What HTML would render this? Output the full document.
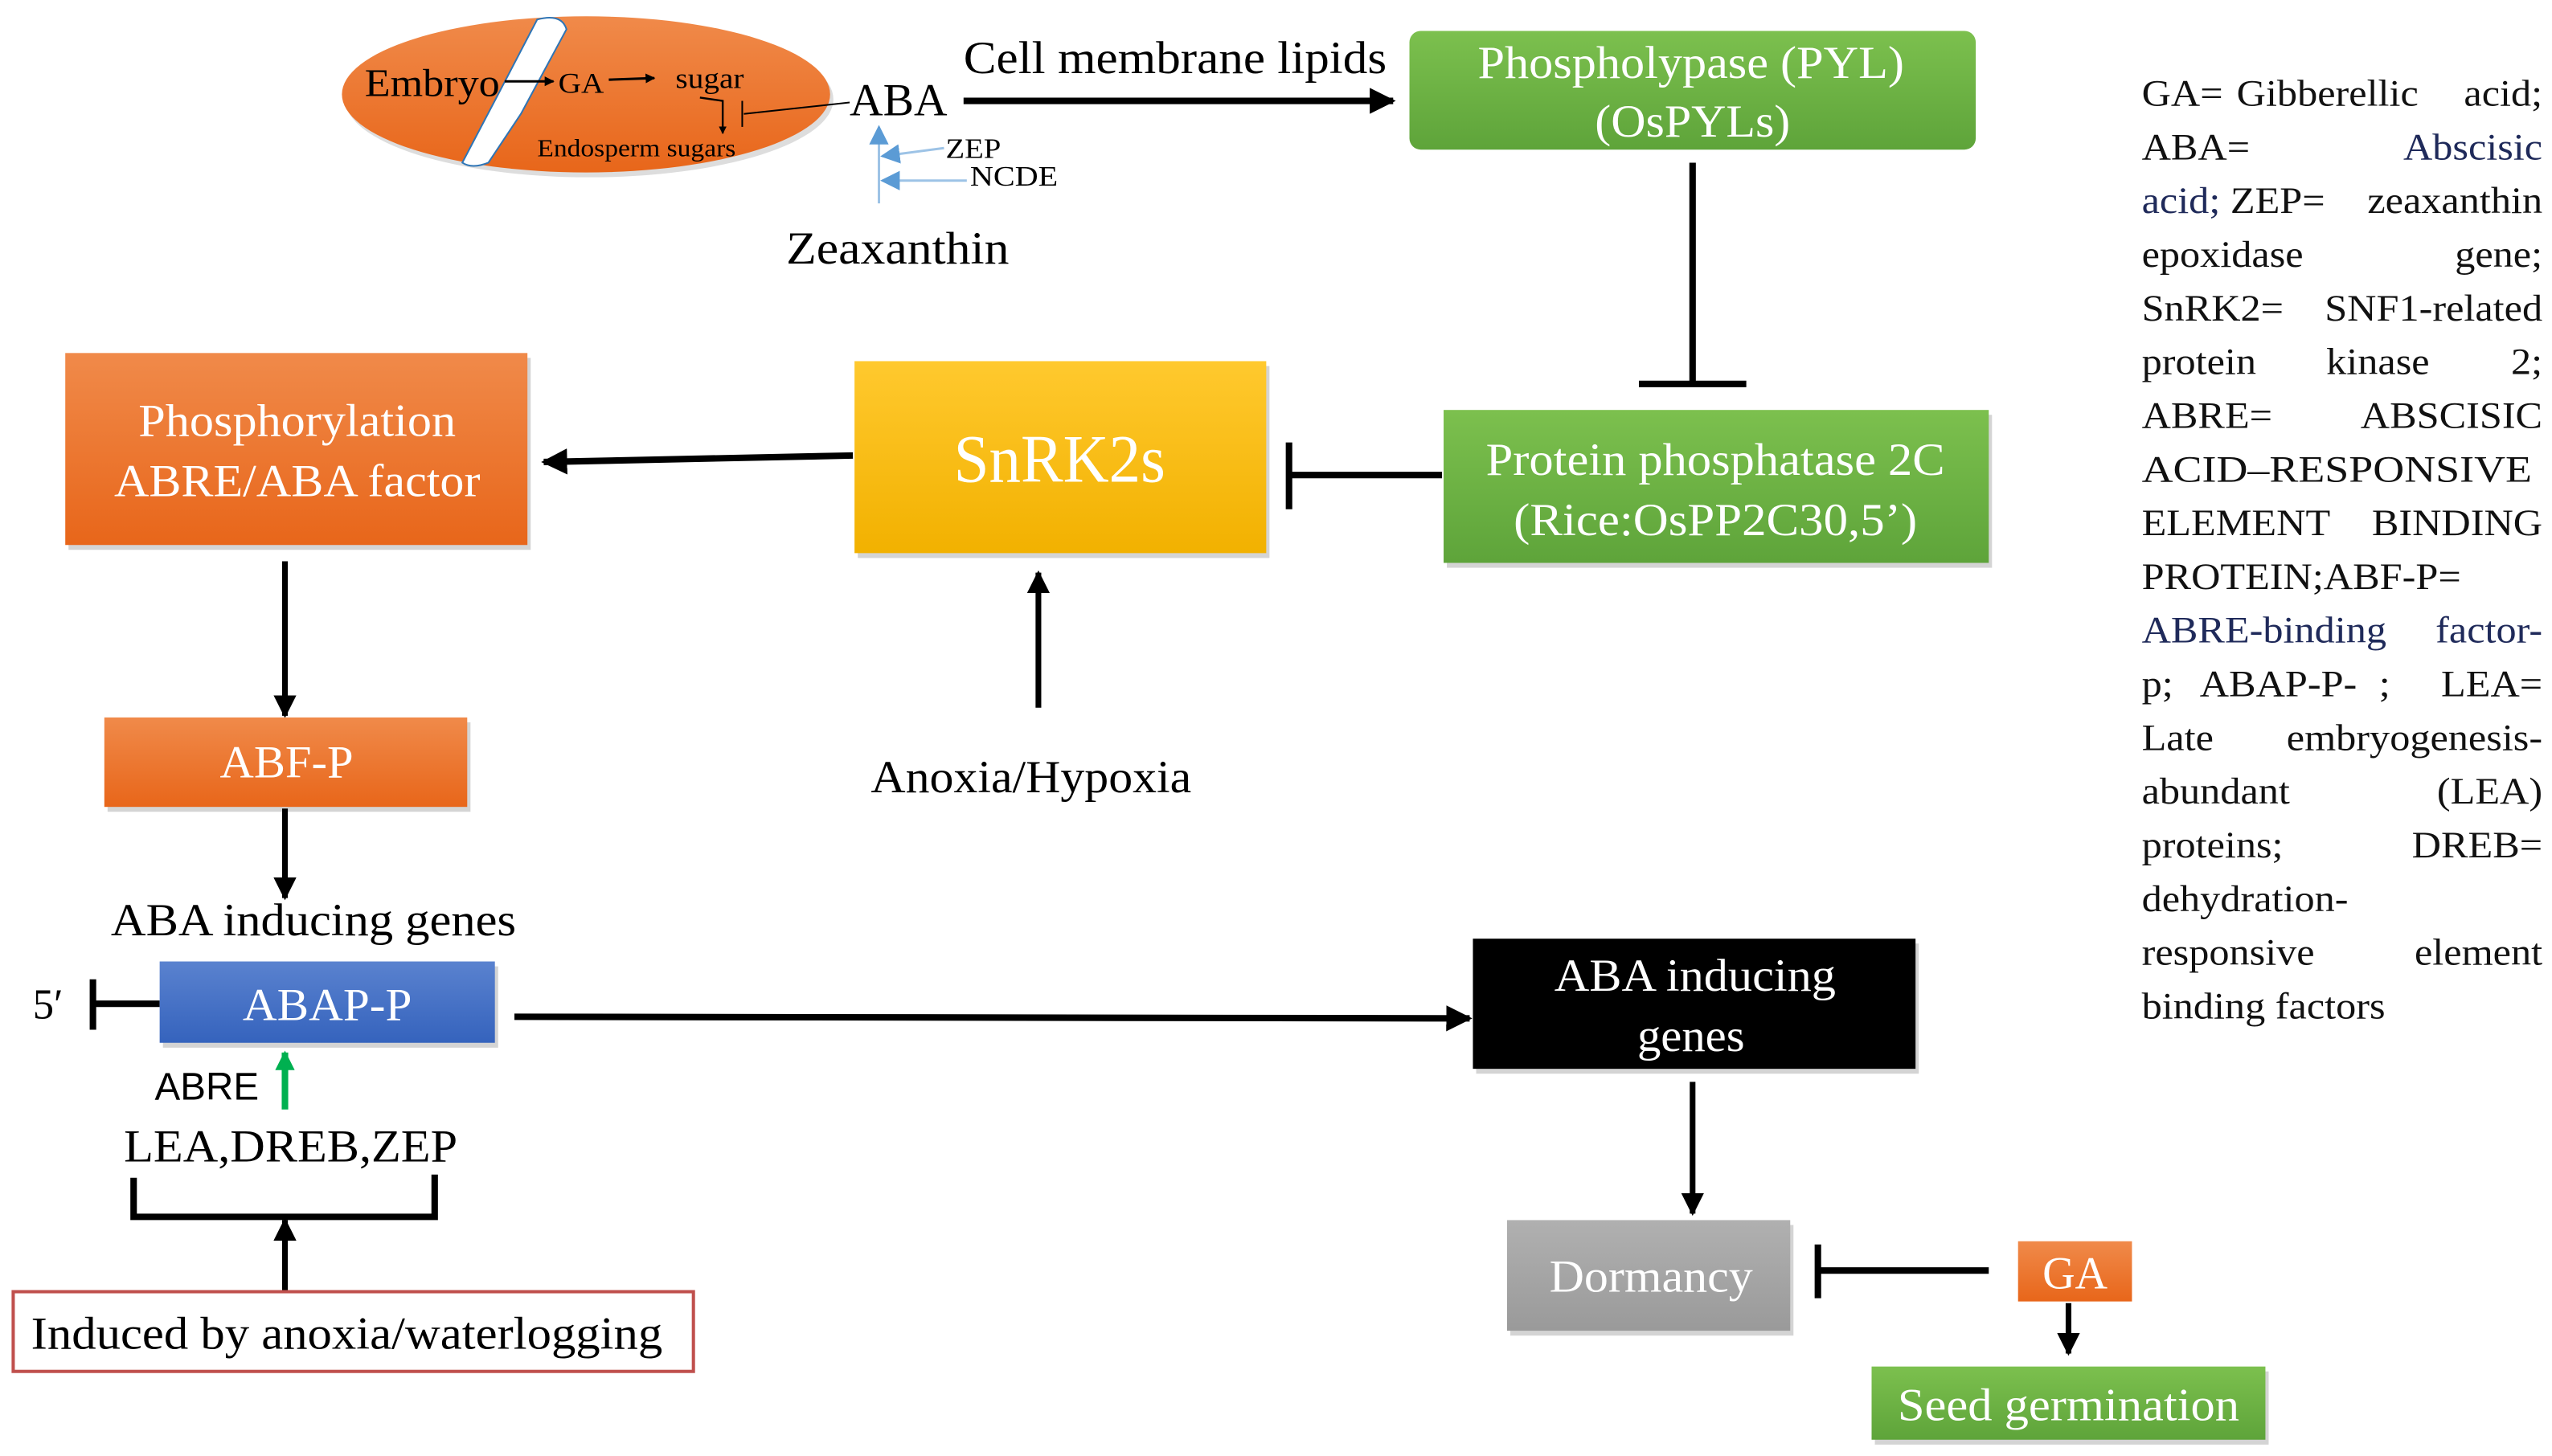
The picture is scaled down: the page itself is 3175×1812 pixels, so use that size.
<!DOCTYPE html>
<html><head><meta charset="utf-8"><style>
html,body{margin:0;padding:0;background:#fff;}
svg{display:block;}
text{font-family:"Liberation Serif",serif;}
</style></head><body>
<svg width="3175" height="1812" viewBox="0 0 1568 895" xmlns="http://www.w3.org/2000/svg">
<defs>
<linearGradient id="og" x1="0" y1="0" x2="0" y2="1"><stop offset="0" stop-color="#f08a4a"/><stop offset="1" stop-color="#e8661a"/></linearGradient>
<linearGradient id="gg" x1="0" y1="0" x2="0" y2="1"><stop offset="0" stop-color="#7cc04e"/><stop offset="1" stop-color="#5ea43a"/></linearGradient>
<linearGradient id="yg" x1="0" y1="0" x2="0" y2="1"><stop offset="0" stop-color="#ffc92e"/><stop offset="1" stop-color="#f2b100"/></linearGradient>
<linearGradient id="bg" x1="0" y1="0" x2="0" y2="1"><stop offset="0" stop-color="#5a82cf"/><stop offset="1" stop-color="#3563bd"/></linearGradient>
<linearGradient id="sg" x1="0" y1="0" x2="0" y2="1"><stop offset="0" stop-color="#b0b0b0"/><stop offset="1" stop-color="#9a9a9a"/></linearGradient>
<marker id="ah" viewBox="0 0 10 10" refX="9" refY="5" markerWidth="4" markerHeight="4" orient="auto"><path d="M0,0L10,5L0,10z" fill="#000"/></marker>
<marker id="ahb" viewBox="0 0 10 10" refX="9" refY="5" markerWidth="8" markerHeight="8" orient="auto"><path d="M0,0L10,5L0,10z" fill="#5b9bd5"/></marker>
<marker id="ahg" viewBox="0 0 10 10" refX="9" refY="5" markerWidth="3" markerHeight="3" orient="auto"><path d="M0,0L10,5L0,10z" fill="#00b050"/></marker>
</defs>
<g>
<ellipse cx="362" cy="61" rx="150" ry="48" fill="#bbb" opacity="0.5"/>
<ellipse cx="360" cy="58" rx="150" ry="48" fill="url(#og)"/>
<path d="M330,12 Q345,8 348,18 L320,70 L300,100 Q290,104 284,100 L306,58 Z" fill="#fff" stroke="#2e75b6" stroke-width="1"/>
<text x="224" y="59" font-size="24" textLength="83" lengthAdjust="spacingAndGlyphs">Embryo</text>
<line x1="310" y1="50" x2="340" y2="50" stroke="#000" stroke-width="1.5" marker-end="url(#ah)"/>
<text x="343" y="57" font-size="18" textLength="28" lengthAdjust="spacingAndGlyphs">GA</text>
<line x1="374" y1="49" x2="402" y2="48" stroke="#000" stroke-width="1.5" marker-end="url(#ah)"/>
<text x="415" y="54" font-size="18" textLength="42" lengthAdjust="spacingAndGlyphs">sugar</text>
<polyline points="430,60 444,62 444,82" fill="none" stroke="#000" stroke-width="1.2" marker-end="url(#ah)"/>
<text x="330" y="96" font-size="15" textLength="122" lengthAdjust="spacingAndGlyphs">Endosperm sugars</text>
<line x1="457" y1="70" x2="522" y2="63" stroke="#000" stroke-width="1"/>
<line x1="456" y1="62" x2="456" y2="78" stroke="#000" stroke-width="1"/>
<text x="522" y="71" font-size="28" textLength="60" lengthAdjust="spacingAndGlyphs">ABA</text>

<line x1="592" y1="62" x2="856" y2="62" stroke="#000" stroke-width="4" marker-end="url(#ah)"/>
<text x="592" y="45" font-size="28" textLength="260" lengthAdjust="spacingAndGlyphs">Cell membrane lipids</text>

<rect x="866" y="19" width="348" height="73" rx="7" fill="url(#gg)"/>
<text x="908" y="48" font-size="28" fill="#fff" textLength="262" lengthAdjust="spacingAndGlyphs">Phospholypase (PYL)</text>
<text x="980" y="84" font-size="28" fill="#fff" textLength="120" lengthAdjust="spacingAndGlyphs">(OsPYLs)</text>

<line x1="540" y1="125" x2="540" y2="78" stroke="#9dc3e6" stroke-width="1.5" marker-end="url(#ahb)"/>
<line x1="580" y1="91" x2="542" y2="96" stroke="#9dc3e6" stroke-width="1.5" marker-end="url(#ahb)"/>
<line x1="594" y1="111" x2="542" y2="111" stroke="#9dc3e6" stroke-width="1.5" marker-end="url(#ahb)"/>
<text x="581" y="97" font-size="17" textLength="34" lengthAdjust="spacingAndGlyphs">ZEP</text>
<text x="596" y="114" font-size="17" textLength="54" lengthAdjust="spacingAndGlyphs">NCDE</text>
<text x="483" y="162" font-size="28" textLength="137" lengthAdjust="spacingAndGlyphs">Zeaxanthin</text>

<line x1="1040" y1="100" x2="1040" y2="236" stroke="#000" stroke-width="4"/>
<line x1="1007" y1="236" x2="1073" y2="236" stroke="#000" stroke-width="4"/>

<rect x="889" y="255" width="335" height="94" fill="#aaa" opacity="0.5"/>
<rect x="887" y="252" width="335" height="94" fill="url(#gg)"/>
<text x="913" y="292" font-size="28" fill="#fff" textLength="282" lengthAdjust="spacingAndGlyphs">Protein phosphatase 2C</text>
<text x="930" y="329" font-size="28" fill="#fff" textLength="248" lengthAdjust="spacingAndGlyphs">(Rice:OsPP2C30,5’)</text>

<line x1="886" y1="292" x2="792" y2="292" stroke="#000" stroke-width="4"/>
<line x1="792" y1="272" x2="792" y2="313" stroke="#000" stroke-width="4"/>

<rect x="527" y="225" width="253" height="118" fill="#aaa" opacity="0.5"/>
<rect x="525" y="222" width="253" height="118" fill="url(#yg)"/>
<text x="586" y="296" font-size="42" fill="#fff" textLength="130" lengthAdjust="spacingAndGlyphs">SnRK2s</text>

<line x1="638" y1="435" x2="638" y2="352" stroke="#000" stroke-width="3.5" marker-end="url(#ah)"/>
<text x="535" y="487" font-size="28" textLength="197" lengthAdjust="spacingAndGlyphs">Anoxia/Hypoxia</text>

<line x1="524" y1="280" x2="334" y2="284" stroke="#000" stroke-width="4" marker-end="url(#ah)"/>

<rect x="42" y="220" width="284" height="118" fill="#aaa" opacity="0.5"/>
<rect x="40" y="217" width="284" height="118" fill="url(#og)"/>
<text x="85" y="268" font-size="28" fill="#fff" textLength="195" lengthAdjust="spacingAndGlyphs">Phosphorylation</text>
<text x="70" y="305" font-size="28" fill="#fff" textLength="225" lengthAdjust="spacingAndGlyphs">ABRE/ABA factor</text>

<line x1="175" y1="345" x2="175" y2="440" stroke="#000" stroke-width="3.5" marker-end="url(#ah)"/>
<rect x="66" y="444" width="223" height="55" fill="#aaa" opacity="0.5"/>
<rect x="64" y="441" width="223" height="55" fill="url(#og)"/>
<text x="135" y="478" font-size="28" fill="#fff" textLength="82" lengthAdjust="spacingAndGlyphs">ABF-P</text>
<line x1="175" y1="497" x2="175" y2="552" stroke="#000" stroke-width="3.5" marker-end="url(#ah)"/>
<text x="68" y="575" font-size="28" textLength="249" lengthAdjust="spacingAndGlyphs">ABA inducing genes</text>

<text x="20" y="626" font-size="26">5′</text>
<line x1="57" y1="602" x2="57" y2="633" stroke="#000" stroke-width="4"/>
<line x1="57" y1="617" x2="98" y2="617" stroke="#000" stroke-width="4"/>
<rect x="100" y="594" width="206" height="50" fill="#aaa" opacity="0.5"/>
<rect x="98" y="591" width="206" height="50" fill="url(#bg)"/>
<text x="149" y="627" font-size="28" fill="#fff" textLength="104" lengthAdjust="spacingAndGlyphs">ABAP-P</text>

<line x1="316" y1="625" x2="903" y2="626" stroke="#000" stroke-width="4" marker-end="url(#ah)"/>

<text x="95" y="676" font-size="24" style="font-family:'Liberation Sans',sans-serif" textLength="64" lengthAdjust="spacingAndGlyphs">ABRE</text>
<line x1="175" y1="682" x2="175" y2="647" stroke="#00b050" stroke-width="4" marker-end="url(#ahg)"/>
<text x="76" y="714" font-size="28" textLength="205" lengthAdjust="spacingAndGlyphs">LEA,DREB,ZEP</text>
<polyline points="82,724 82,748 267,748 267,722" fill="none" stroke="#000" stroke-width="4"/>
<line x1="175" y1="798" x2="175" y2="750" stroke="#000" stroke-width="3.5" marker-end="url(#ah)"/>
<rect x="8" y="794" width="418" height="49" fill="#fff" stroke="#c0504d" stroke-width="2"/>
<text x="19" y="829" font-size="28" textLength="388" lengthAdjust="spacingAndGlyphs">Induced by anoxia/waterlogging</text>

<rect x="907" y="580" width="272" height="80" fill="#aaa" opacity="0.5"/>
<rect x="905" y="577" width="272" height="80" fill="#000"/>
<text x="955" y="609" font-size="28" fill="#fff" textLength="173" lengthAdjust="spacingAndGlyphs">ABA inducing</text>
<text x="1006" y="646" font-size="28" fill="#fff" textLength="66" lengthAdjust="spacingAndGlyphs">genes</text>

<line x1="1040" y1="665" x2="1040" y2="746" stroke="#000" stroke-width="3.5" marker-end="url(#ah)"/>
<rect x="928" y="753" width="174" height="68" fill="#aaa" opacity="0.5"/>
<rect x="926" y="750" width="174" height="68" fill="url(#sg)"/>
<text x="952" y="794" font-size="28" fill="#fff" textLength="125" lengthAdjust="spacingAndGlyphs">Dormancy</text>

<line x1="1222" y1="781" x2="1117" y2="781" stroke="#000" stroke-width="4"/>
<line x1="1117" y1="765" x2="1117" y2="798" stroke="#000" stroke-width="4"/>
<rect x="1240" y="763" width="70" height="37" fill="url(#og)"/>
<text x="1255" y="792" font-size="28" fill="#fff" textLength="40" lengthAdjust="spacingAndGlyphs">GA</text>
<line x1="1271" y1="801" x2="1271" y2="832" stroke="#000" stroke-width="3.5" marker-end="url(#ah)"/>
<rect x="1152" y="843" width="242" height="45" fill="#aaa" opacity="0.5"/>
<rect x="1150" y="840" width="242" height="45" fill="url(#gg)"/>
<text x="1166" y="873" font-size="28" fill="#fff" textLength="210" lengthAdjust="spacingAndGlyphs">Seed germination</text>
</g>
<!-- legend -->
<g font-size="23" fill="#111" transform="translate(1316,0) scale(1.08,1)">
<text x="0" y="65">GA=</text><text x="54" y="65">Gibberellic</text><text x="228" y="65" text-anchor="end">acid;</text>
<text x="0" y="98">ABA=</text><text x="228" y="98" text-anchor="end" fill="#1f2a5a">Abscisic</text>
<text x="0" y="131"><tspan fill="#1f2a5a">acid;</tspan> ZEP=</text><text x="228" y="131" text-anchor="end">zeaxanthin</text>
<text x="0" y="164">epoxidase</text><text x="228" y="164" text-anchor="end">gene;</text>
<text x="0" y="197">SnRK2=</text><text x="228" y="197" text-anchor="end">SNF1-related</text>
<text x="0" y="230">protein</text><text x="105" y="230">kinase</text><text x="228" y="230" text-anchor="end">2;</text>
<text x="0" y="263">ABRE=</text><text x="228" y="263" text-anchor="end">ABSCISIC</text>
<text x="0" y="296" textLength="222" lengthAdjust="spacingAndGlyphs">ACID–RESPONSIVE</text>
<text x="0" y="329">ELEMENT</text><text x="228" y="329" text-anchor="end">BINDING</text>
<text x="0" y="362">PROTEIN;ABF-P=</text>
<text x="0" y="395" fill="#1f2a5a">ABRE-binding</text><text x="228" y="395" text-anchor="end" fill="#1f2a5a">factor-</text>
<text x="0" y="428">p;</text><text x="33" y="428">ABAP-P-</text><text x="135" y="428">;</text><text x="228" y="428" text-anchor="end">LEA=</text>
<text x="0" y="461">Late</text><text x="228" y="461" text-anchor="end">embryogenesis-</text>
<text x="0" y="494">abundant</text><text x="228" y="494" text-anchor="end">(LEA)</text>
<text x="0" y="527">proteins;</text><text x="228" y="527" text-anchor="end">DREB=</text>
<text x="0" y="560">dehydration-</text>
<text x="0" y="593">responsive</text><text x="228" y="593" text-anchor="end">element</text>
<text x="0" y="626">binding factors</text>
</g>
</svg>
</body></html>
